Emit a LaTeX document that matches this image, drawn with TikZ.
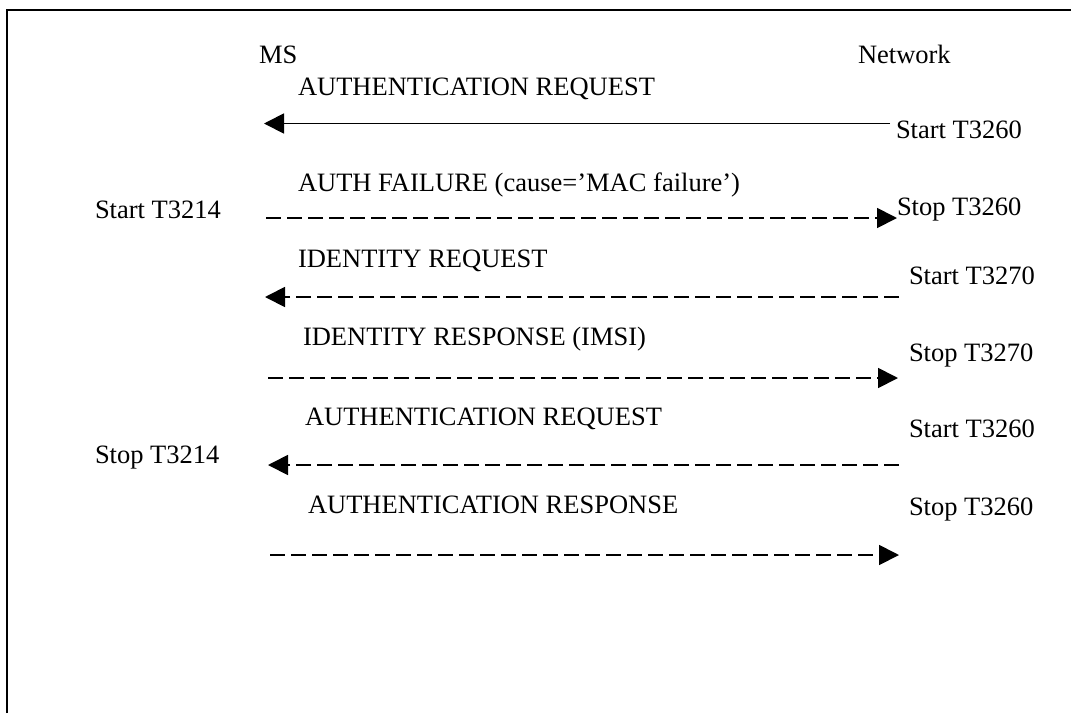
\documentclass[tikz,border=0pt]{standalone}
\usepackage{fontspec}
\setmainfont{Liberation Serif}
\usetikzlibrary{arrows.meta}
\tikzset{
  txt/.style={anchor=base west, inner sep=0pt, outer sep=0pt, font=\fontsize{26.5}{30}\selectfont},
  msg/.style={line width=1.8pt, -{Triangle[length=20pt,width=20pt]}},
  dsh/.style={msg, dash pattern=on 15pt off 6pt},
  frame/.style={line width=2pt}
}
\begin{document}
\begin{tikzpicture}[x=1pt,y=-1pt]
\useasboundingbox (0,0) rectangle (1071,713);
\draw[frame] (7,713) -- (7,10) -- (1071,10);
% headers
\node[txt] (ms) at (259,63) {MS};
\node[txt] (net) at (858,63) {Network};
% row 1
\node[txt] (l1) at (298,95) {AUTHENTICATION REQUEST};
\node[txt] (r1) at (896,138) {Start T3260};
\coordinate (a1s) at (890,123.5);
\coordinate (a1e) at (264,123.5);
\draw[msg] (a1s) -- (a1e);
% row 2
\node[txt] (l2) at (298,191) {AUTH FAILURE (cause=’MAC failure’)};
\node[txt] (lt2) at (95,218) {Start T3214};
\node[txt] (r2) at (897,215) {Stop T3260};
\coordinate (a2s) at (266,218);
\coordinate (a2e) at (897,218);
\draw[dsh] (a2s) -- (a2e);
% row 3
\node[txt] (l3) at (298,267) {IDENTITY REQUEST};
\node[txt] (r3) at (909,284) {Start T3270};
\coordinate (a3s) at (899,297);
\coordinate (a3e) at (265,297);
\draw[dsh] (a3s) -- (a3e);
% row 4
\node[txt] (l4) at (303,345) {IDENTITY RESPONSE (IMSI)};
\node[txt] (r4) at (909,361) {Stop T3270};
\coordinate (a4s) at (268,378);
\coordinate (a4e) at (898,378);
\draw[dsh] (a4s) -- (a4e);
% row 5
\node[txt] (l5) at (305,425) {AUTHENTICATION REQUEST};
\node[txt] (r5) at (909,437) {Start T3260};
\node[txt] (lt5) at (95,463) {Stop T3214};
\coordinate (a5s) at (899,465);
\coordinate (a5e) at (268,465);
\draw[dsh] (a5s) -- (a5e);
% row 6
\node[txt] (l6) at (308,513) {AUTHENTICATION RESPONSE};
\node[txt] (r6) at (909,515) {Stop T3260};
\coordinate (a6s) at (270,555);
\coordinate (a6e) at (899,555);
\draw[dsh] (a6s) -- (a6e);
\end{tikzpicture}
\end{document}
